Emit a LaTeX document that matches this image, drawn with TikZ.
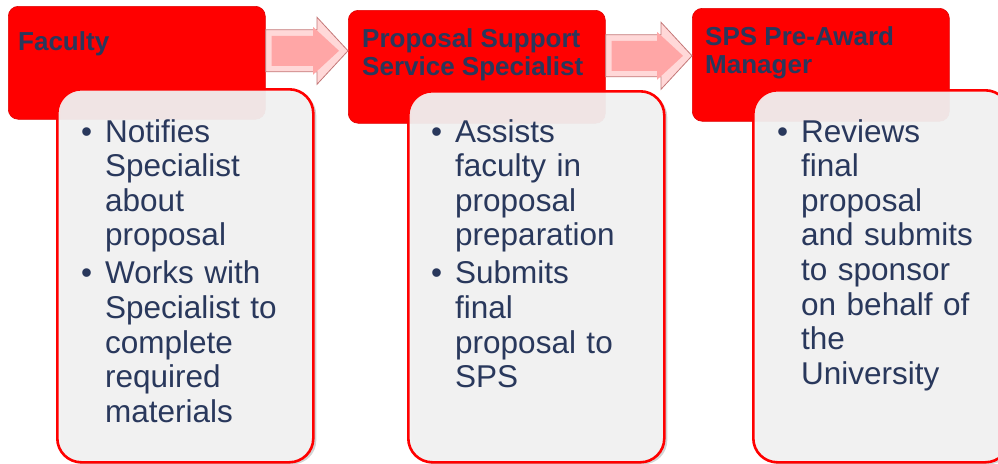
\documentclass[tikz,border=0pt]{standalone}
\usepackage{fontspec}
\setmainfont{Liberation Sans}
\usetikzlibrary{calc,shadows}

\definecolor{navytext}{HTML}{29385C}
\definecolor{arrowpink}{HTML}{FFA6A6}
\definecolor{arrowlight}{HTML}{FFD8D8}
\definecolor{arrowedge}{HTML}{C47878}
\definecolor{listgray}{HTML}{F3F3F3}

% one bullet paragraph, lines broken as in the slide
\newcommand{\bulitem}[1]{\noindent\hangindent=24pt\hangafter=1\makebox[24pt][l]{\textbullet}#1\par}

% block arrow from the east side of #1 to the west side of #2
\newcommand{\blockarrow}[3]{%
  \coordinate (#1Tail) at ($(#1.east)+(0,#3)$);
  \coordinate (#1Tip) at (#1Tail -| #2.west);
  \filldraw[fill=arrowlight, draw=arrowedge, line width=0.8pt]
    ($(#1Tail)+(0,-21)$) -- ($(#1Tip)+(-31,-21)$) -- ($(#1Tip)+(-31,-33.5)$)
    -- (#1Tip) -- ($(#1Tip)+(-31,33.5)$) -- ($(#1Tip)+(-31,21)$)
    -- ($(#1Tail)+(0,21)$) -- cycle;
  \fill[arrowpink]
    ($(#1Tail)+(6,-15)$) -- ($(#1Tip)+(-35,-15)$) -- ($(#1Tip)+(-35,-24)$)
    -- ($(#1Tip)+(-9,0)$) -- ($(#1Tip)+(-35,24)$) -- ($(#1Tip)+(-35,15)$)
    -- ($(#1Tail)+(6,15)$) -- cycle;
}

\begin{document}
\begin{tikzpicture}[x = 1pt, y = -1pt,
    titlebox/.style = {fill = red, draw = red!88!black, line width = 0.6pt,
      rounded corners = 10pt, inner sep = 0pt, anchor = north west,
      minimum width = 257pt, minimum height = 113pt},
    listbox/.style = {fill = listgray, fill opacity = 0.93, draw = red,
      line width = 2.6pt, rounded corners = 24pt, inner sep = 0pt,
      anchor = north west, minimum width = 256pt,
      drop shadow = {opacity = 0.35, shadow xshift = 3pt, shadow yshift = -2pt}},
    titletext/.style = {text = navytext, font = \fontsize{26}{28}\selectfont\bfseries,
      align = left, inner sep = 0pt, anchor = base west},
    listtext/.style = {text = navytext, font = \fontsize{31.5}{34.6}\selectfont,
      text width = 240pt, inner sep = 0pt, anchor = base west}]

    \useasboundingbox (0, 0) rectangle (998, 463);

    \node[titlebox] (fac) at (8, 6) {};
    \node[titlebox] (pss) at (348, 10) {};
    \node[titlebox] (spm) at (692, 8) {};

    \blockarrow{fac}{pss}{-12}
    \blockarrow{pss}{spm}{-11}

    \node[listbox, minimum height = 373pt] (facList) at (56, 88) {};
    \node[listbox, minimum height = 371pt] (pssList) at (407, 90) {};
    \node[listbox, minimum height = 372pt] (spmList) at (752, 89) {};

    % base of a two-line title is its last line
    \node[titletext] (facTitle) at ($(fac.north west) + (10, 44)$) {Faculty};
    \node[titletext] (pssTitle) at ($(pss.north west) + (14, 65)$) {Proposal Support\\Service Specialist};
    \node[titletext] (spmTitle) at ($(spm.north west) + (13, 65)$) {SPS Pre-Award\\Manager};

    \node[listtext] (facText) at ($(facList.north west) + (25, 54)$)
      {\setlength{\parskip}{3.5pt}%
       \bulitem{Notifies\newline Specialist\newline about\newline proposal}%
       \bulitem{Works with\newline Specialist to\newline complete\newline required\newline materials}};
    \node[listtext] (pssText) at ($(pssList.north west) + (24, 52)$)
      {\setlength{\parskip}{3.5pt}%
       \bulitem{Assists\newline faculty in\newline proposal\newline preparation}%
       \bulitem{Submits\newline final\newline proposal to\newline SPS}};
    \node[listtext] (spmText) at ($(spmList.north west) + (25, 53)$)
      {\setlength{\parskip}{3.5pt}%
       \bulitem{Reviews\newline final\newline proposal\newline and submits\newline to sponsor\newline on behalf of\newline the\newline University}};

  \end{tikzpicture}
\end{document}
